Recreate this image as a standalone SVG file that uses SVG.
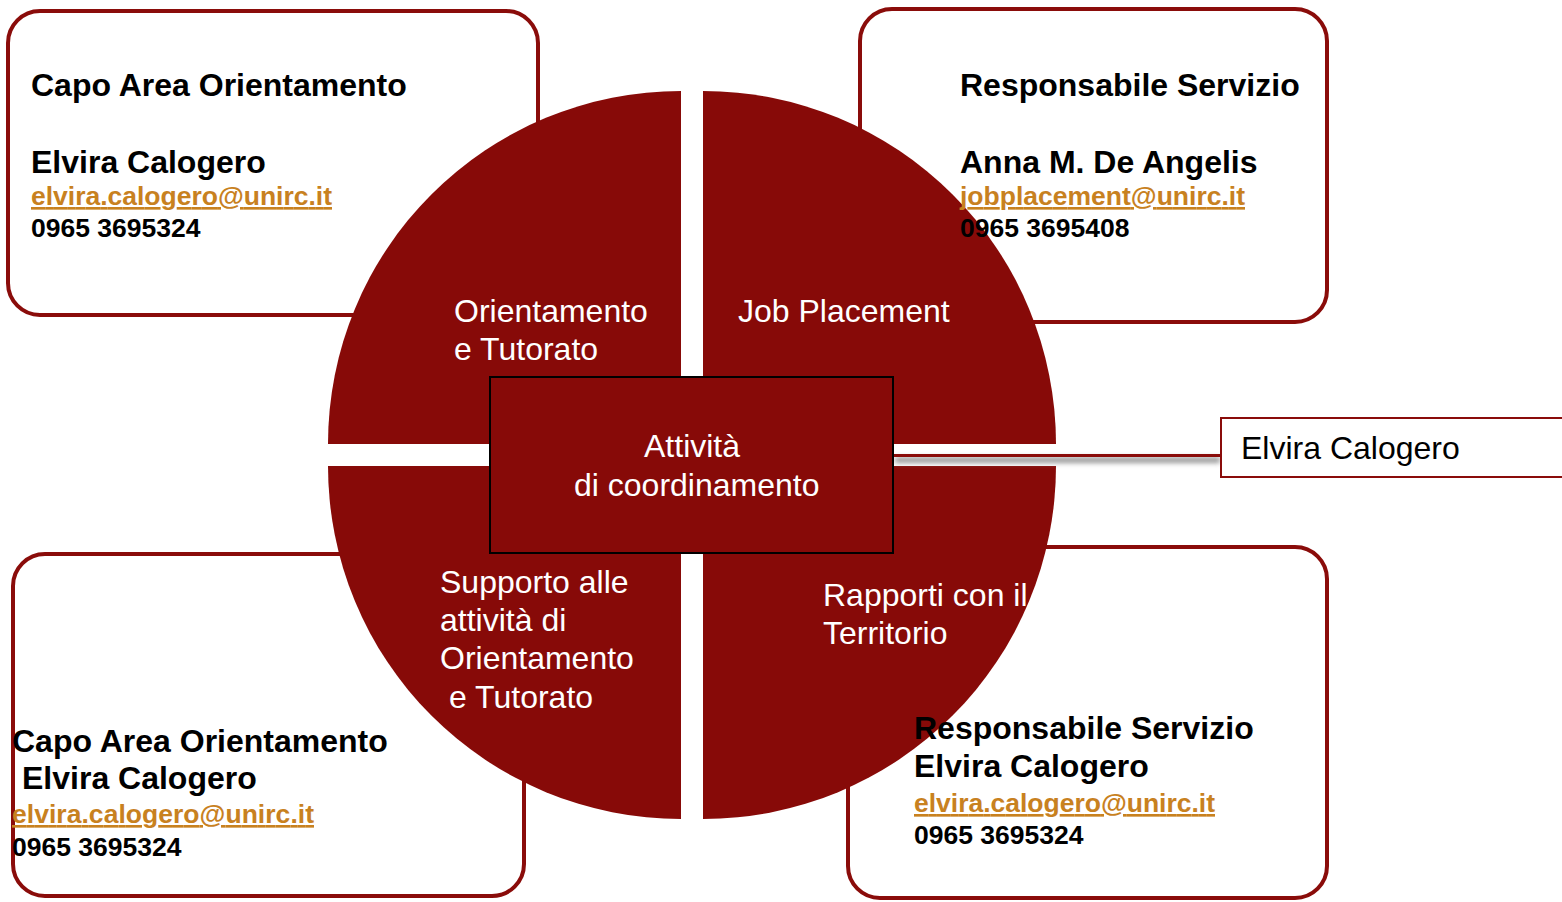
<svg xmlns="http://www.w3.org/2000/svg" width="1562" height="902" viewBox="0 0 1562 902">
<defs>
<style>
.box{fill:#fff;stroke:#8A0C0A;stroke-width:4}
.pie{fill:#870A08}
.t{font-family:"Liberation Sans",Arial,sans-serif}
.b{font-weight:bold;font-size:32px;fill:#000}
.m{font-weight:bold;font-size:26.5px;fill:#C8811F;text-decoration:underline}
.p{font-weight:bold;font-size:26.5px;fill:#000}
.w{font-size:32px;fill:#fff}
.k{font-size:32px;fill:#000}
</style>
<filter id="sh" x="-5%" y="-200%" width="110%" height="500%">
<feGaussianBlur stdDeviation="2.5"/>
</filter>
</defs>
<rect width="1562" height="902" fill="#fff"/>
<g id="box-tl"><rect class="box" x="8" y="11" width="530" height="304" rx="32"/></g>
<g id="box-tr"><rect class="box" x="860" y="9" width="467" height="313" rx="32"/></g>
<g id="box-bl"><rect class="box" x="13" y="554" width="511" height="342" rx="32"/></g>
<g id="box-br"><rect class="box" x="848" y="547" width="479" height="351" rx="32"/></g>
<g id="pie">
<path class="pie" d="M681,444 L328,444 A353,353 0 0 1 681,91 Z"/>
<path class="pie" d="M703,444 L703,91 A353,353 0 0 1 1056,444 Z"/>
<path class="pie" d="M681,466 L681,819 A353,353 0 0 1 328,466 Z"/>
<path class="pie" d="M703,466 L1056,466 A353,353 0 0 1 703,819 Z"/>
</g>
<g id="connectors">
<rect x="895" y="457" width="325" height="6" fill="#999" filter="url(#sh)"/>
<line x1="893" y1="455.5" x2="1222" y2="455.5" stroke="#8A0C0A" stroke-width="3"/>
</g>
<g id="center"><rect x="490" y="377" width="403" height="176" fill="#870A08" stroke="#000" stroke-width="2"/>
<text class="t w" x="644" y="457">Attività</text>
<text class="t w" x="574" y="496">di coordinamento</text></g>
<g id="label-right"><rect x="1221" y="418" width="345" height="59" fill="#fff" stroke="#8A0C0A" stroke-width="2"/>
<text class="t k" x="1241" y="459">Elvira Calogero</text></g>
<g id="seg-tl"><text class="t w" x="454" y="322">Orientamento</text><text class="t w" x="454" y="360">e Tutorato</text></g>
<g id="seg-tr"><text class="t w" x="738" y="322">Job Placement</text></g>
<g id="seg-bl"><text class="t w" x="440" y="593">Supporto alle</text><text class="t w" x="440" y="631">attività di</text><text class="t w" x="440" y="669">Orientamento</text><text class="t w" x="449" y="708">e Tutorato</text></g>
<g id="seg-br"><text class="t w" x="823" y="606">Rapporti con il</text><text class="t w" x="823" y="644">Territorio</text></g>
<g id="text-tl">
<text class="t b" x="31" y="96">Capo Area Orientamento</text>
<text class="t b" x="31" y="173">Elvira Calogero</text>
<text class="t m" x="31" y="205" textLength="301">elvira.calogero@unirc.it</text>
<text class="t p" x="31" y="237">0965 3695324</text>
</g>
<g id="text-tr">
<text class="t b" x="960" y="96">Responsabile Servizio</text>
<text class="t b" x="960" y="173">Anna M. De Angelis</text>
<text class="t m" x="960" y="205" textLength="285">jobplacement@unirc.it</text>
<text class="t p" x="960" y="237">0965 3695408</text>
</g>
<g id="text-bl">
<text class="t b" x="12" y="752">Capo Area Orientamento</text>
<text class="t b" x="22" y="789">Elvira Calogero</text>
<text class="t m" x="12" y="823" textLength="302">elvira.calogero@unirc.it</text>
<text class="t p" x="12" y="856">0965 3695324</text>
</g>
<g id="text-br">
<text class="t b" x="914" y="739">Responsabile Servizio</text>
<text class="t b" x="914" y="777">Elvira Calogero</text>
<text class="t m" x="914" y="812" textLength="301">elvira.calogero@unirc.it</text>
<text class="t p" x="914" y="844">0965 3695324</text>
</g>
</svg>
